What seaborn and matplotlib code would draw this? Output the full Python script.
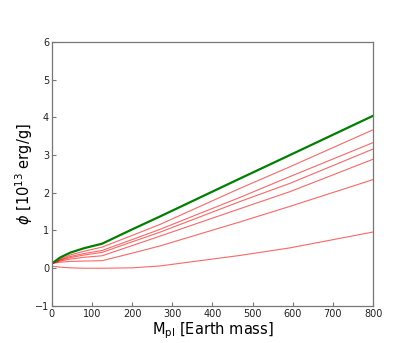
import numpy as np
import pandas as pd
import matplotlib
matplotlib.use("Agg")
import matplotlib.pyplot as plt
import seaborn as sns

mass = [2, 20, 45, 80, 125, 200, 269, 469, 593, 800]

# phi in 10^13 erg/g
phi_green = [0.14, 0.28, 0.41, 0.53, 0.65, 1.03, 1.37, 2.38, 3.00, 4.04]
phi_red = {
    "r1": [0.13, 0.24, 0.35, 0.45, 0.56, 0.87, 1.16, 2.12, 2.69, 3.67],
    "r2": [0.13, 0.22, 0.31, 0.39, 0.47, 0.76, 1.03, 1.88, 2.43, 3.33],
    "r3": [0.13, 0.21, 0.28, 0.35, 0.42, 0.70, 0.955, 1.77, 2.25, 3.16],
    "r4": [0.13, 0.19, 0.24, 0.29, 0.33, 0.60, 0.85, 1.58, 2.03, 2.89],
    "r5": [0.13, 0.16, 0.18, 0.19, 0.20, 0.40, 0.59, 1.23, 1.64, 2.35],
    "r6": [0.05, 0.03, 0.01, 0.0, 0.0, 0.01, 0.06, 0.34, 0.54, 0.96],
}

df_red = pd.concat(
    [pd.DataFrame({"mass": mass, "phi": v, "run": k}) for k, v in phi_red.items()],
    ignore_index=True,
)
df_green = pd.DataFrame({"mass": mass, "phi": phi_green})

sns.set_theme(style="white", rc={
    "xtick.direction": "in",
    "ytick.direction": "in",
    "xtick.bottom": True,
    "ytick.left": True,
    "axes.edgecolor": "#777777",
    "xtick.color": "#777777",
    "ytick.color": "#777777",
    "xtick.labelcolor": "#222222",
    "ytick.labelcolor": "#222222",
})

fig = plt.figure(figsize=(4.15, 3.43), dpi=100)
ax = fig.add_axes([0.125, 0.108, 0.774, 0.770])

sns.lineplot(data=df_red, x="mass", y="phi", units="run", estimator=None,
             color="red", alpha=0.6, linewidth=0.8, ax=ax)
sns.lineplot(data=df_green, x="mass", y="phi", color="green",
             linewidth=1.6, ax=ax)

ax.set_xlim(0, 800)
ax.set_ylim(-1, 6)
ax.set_xticks(range(0, 801, 100))
ax.set_yticks(range(-1, 7))
ax.tick_params(labelsize=7, length=3, width=0.8, pad=2)
for s in ax.spines.values():
    s.set_linewidth(0.9)

ax.set_xlabel(r"M$_{\mathrm{pl}}$ [Earth mass]", fontsize=10.5, labelpad=1,
              color="black")
ax.set_ylabel(r"$\phi$ [10$^{13}$ erg/g]", fontsize=10.5, labelpad=0,
              color="black")

fig.savefig("out.png", dpi=100)
